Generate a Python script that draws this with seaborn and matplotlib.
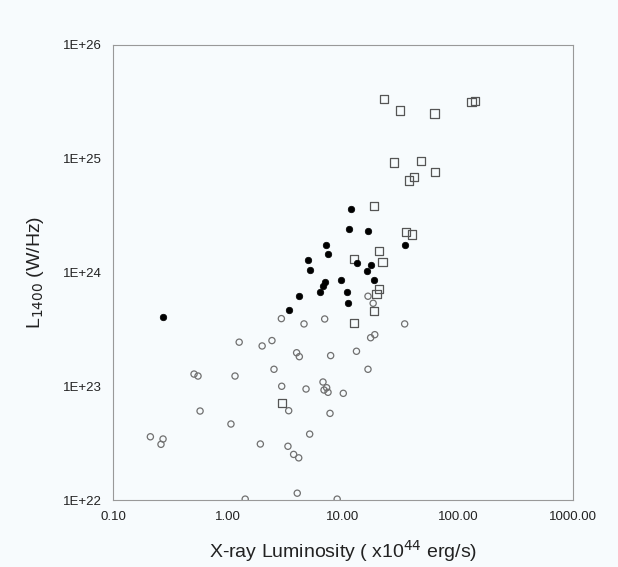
import numpy as np
import pandas as pd
import matplotlib
matplotlib.use('Agg')
import matplotlib.pyplot as plt
import seaborn as sns

sns.set_style("white")
plt.rcParams['font.family'] = ['Liberation Sans', 'DejaVu Sans']

# Open squares
sq_x = [22.7, 31.3, 62.7, 131.5, 140.6, 27.9, 48.0, 63.1, 41.7, 37.7, 18.6,
        35.1, 39.8, 20.6, 22.1, 12.5, 20.6, 19.6, 18.6, 12.5, 2.93]
sq_y = [3.33e25, 2.65e25, 2.49e25, 3.15e25, 3.22e25, 9.23e24, 9.5e24, 7.65e24,
        6.87e24, 6.41e24, 3.84e24, 2.28e24, 2.15e24, 1.55e24, 1.24e24, 1.31e24,
        7.2e23, 6.43e23, 4.59e23, 3.58e23, 7.17e22]

# Filled dots
dot_x = [11.8, 11.35, 16.6, 34.4, 7.16, 7.41, 4.93, 5.16, 13.2, 17.4, 16.3,
         9.6, 18.6, 10.8, 11.1, 6.93, 6.74, 6.31, 4.17, 3.37, 0.272]
dot_y = [3.6e24, 2.4e24, 2.33e24, 1.74e24, 1.74e24, 1.46e24, 1.29e24, 1.05e24,
         1.2e24, 1.17e24, 1.02e24, 8.54e23, 8.59e23, 6.78e23, 5.43e23, 8.2e23,
         7.66e23, 6.78e23, 6.21e23, 4.68e23, 4.09e23]

# Open circles
circ_x = [16.5, 18.3, 34.4, 18.9, 17.4, 13.1, 2.91, 4.58, 6.93, 1.25, 1.98,
          2.41, 3.95, 4.17, 7.81, 0.506, 0.548, 1.15, 2.51, 2.93, 4.77, 6.7,
          6.84, 7.41, 7.21, 10.06, 0.571, 3.37, 7.71, 1.06, 0.211, 0.272,
          0.261, 5.13, 1.91, 3.32, 3.72, 4.12, 4.0, 1.41, 8.9, 16.5]
circ_y = [6.18e23, 5.36e23, 3.53e23, 2.84e23, 2.67e23, 2.03e23, 3.93e23,
          3.53e23, 3.9e23, 2.44e23, 2.26e23, 2.52e23, 1.97e23, 1.82e23,
          1.86e23, 1.28e23, 1.23e23, 1.23e23, 1.41e23, 1.0e23, 9.46e22,
          1.09e23, 9.27e22, 8.85e22, 9.71e22, 8.67e22, 6.06e22, 6.1e22,
          5.78e22, 4.66e22, 3.6e22, 3.44e22, 3.09e22, 3.8e22, 3.11e22,
          2.97e22, 2.52e22, 2.35e22, 1.15e22, 1.02e22, 1.02e22, 1.41e23]

x_ticks = [0.1, 1, 10, 100, 1000]
x_tick_labels = ['0.10', '1.00', '10.00', '100.00', '1000.00']
y_ticks = [1e22, 1e23, 1e24, 1e25, 1e26]
y_tick_labels = ['1E+22', '1E+23', '1E+24', '1E+25', '1E+26']

bg = '#f7fbfd'
fig = plt.figure(figsize=(6.18, 5.67), dpi=100, facecolor=bg)
ax = fig.add_axes([0.183, 0.118, 0.744, 0.803])
ax.set_facecolor(bg)

sns.scatterplot(x=circ_x, y=circ_y, marker='o', s=20, facecolors='none',
                edgecolor='#707070', linewidth=0.9, ax=ax, zorder=3)
sns.scatterplot(x=sq_x, y=sq_y, marker='s', s=36, facecolors='none',
                edgecolor='#555555', linewidth=0.9, ax=ax, zorder=3)
sns.scatterplot(x=dot_x, y=dot_y, marker='o', s=22, color='black',
                edgecolor='black', linewidth=0.5, ax=ax, zorder=4)

ax.set_xscale('log')
ax.set_yscale('log')
ax.set_xlim(0.1, 1000)
ax.set_ylim(1e22, 1e26)
ax.set_xticks(x_ticks)
ax.set_xticklabels(x_tick_labels)
ax.set_yticks(y_ticks)
ax.set_yticklabels(y_tick_labels)
ax.minorticks_off()
ax.tick_params(axis='both', which='major', direction='out', length=5,
               width=0.8, color='#888888', labelsize=9.5, labelcolor='#222222',
               pad=3)
for sp in ax.spines.values():
    sp.set_color('#999999')
    sp.set_linewidth(0.8)

ax.set_xlabel('X-ray Luminosity ( x10$^{44}$ erg/s)', fontsize=14,
              color='#222222', labelpad=11)
ax.set_ylabel('L$_{1400}$ (W/Hz)', fontsize=14, color='#222222', labelpad=12)

fig.savefig('out.png', dpi=100, facecolor=bg)
